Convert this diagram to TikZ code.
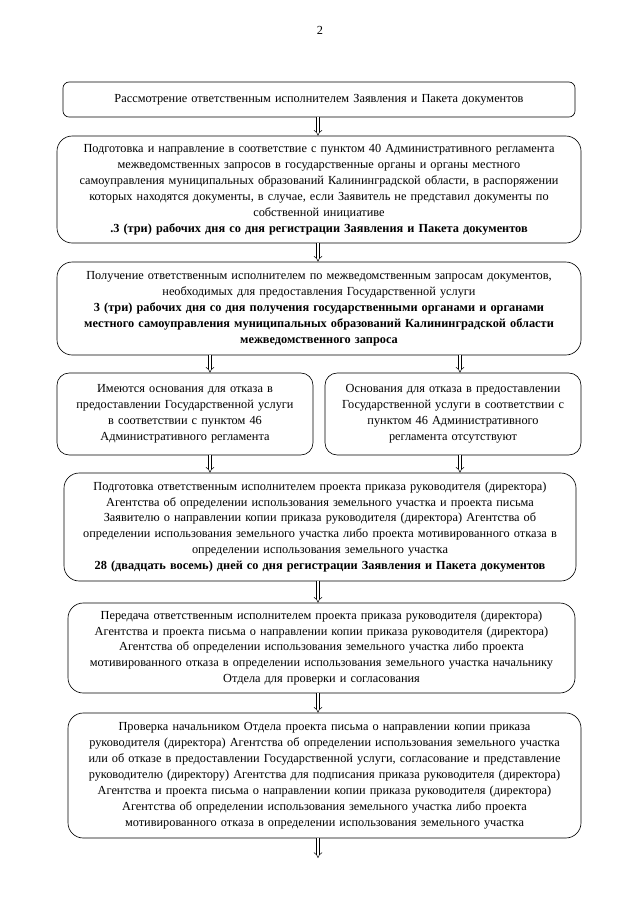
\documentclass[tikz,border=0pt]{standalone}
\usepackage{fontspec}
\setmainfont{Liberation Serif}
\usetikzlibrary{arrows.meta}
\newdimen\px
\px=0.3281mm
\begin{document}
\begin{tikzpicture}[x=\px,y=-\px,
  every node/.style={font=\fontsize{11.5}{14.9}\selectfont},
  stepbox/.style={draw,line width=0.6pt,rounded corners=5mm,align=center,inner sep=0pt,anchor=center},
  flowarrow/.style={draw,line width=0.45pt,double,double distance=2.4pt,-{Implies}},
]
\useasboundingbox (0,0) rectangle (640,905);
\node (pg) at (320,30) {2};
\coordinate (colc) at (318,0);
\coordinate (coll) at (210,0);
\coordinate (colr) at (460,0);

\node[stepbox,rounded corners=2mm,minimum width=512\px,minimum height=35\px,text width=505\px] (b1) at (319,99.5)
 {Рассмотрение ответственным исполнителем Заявления и Пакета документов};

\node[stepbox,minimum width=524\px,minimum height=107\px,text width=520\px] (b2) at (319,189.5)
 {Подготовка и направление в соответствие с пунктом 40 Административного регламента\\
 межведомственных запросов в государственные органы и органы местного\\
 самоуправления муниципальных образований Калининградской области, в распоряжении\\
 которых находятся документы, в случае, если Заявитель не представил документы по\\
 собственной инициативе\\
 \textbf{.3 (три) рабочих дня со дня регистрации Заявления и Пакета документов}};

\node[stepbox,minimum width=524\px,minimum height=93\px,text width=520\px] (b3) at (319,308.5)
 {Получение ответственным исполнителем по межведомственным запросам документов,\\
 необходимых для предоставления Государственной услуги\\
 \textbf{3 (три) рабочих дня со дня получения государственными органами и органами}\\
 \textbf{местного самоуправления муниципальных образований Калининградской области}\\
 \textbf{межведомственного запроса}};

\node[stepbox,rounded corners=4mm,minimum width=256\px,minimum height=82\px,text width=252\px] (b4l) at (185,414)
 {Имеются основания для отказа в\\
 предоставлении Государственной услуги\\
 в соответствии с пунктом 46\\
 Административного регламента};

\node[stepbox,rounded corners=4mm,minimum width=256\px,minimum height=82\px,text width=252\px] (b4r) at (453,414)
 {Основания для отказа в предоставлении\\
 Государственной услуги в соответствии с\\
 пунктом 46 Административного\\
 регламента отсутствуют};

\node[stepbox,minimum width=512\px,minimum height=108\px,text width=508\px] (b5) at (320,527)
 {Подготовка ответственным исполнителем проекта приказа руководителя (директора)\\
 Агентства об определении использования земельного участка и проекта письма\\
 Заявителю о направлении копии приказа руководителя (директора) Агентства об\\
 определении использования земельного участка либо проекта мотивированного отказа в\\
 определении использования земельного участка\\
 \textbf{28 (двадцать восемь) дней со дня регистрации Заявления и Пакета документов}};

\node[stepbox,minimum width=507\px,minimum height=90\px,text width=503\px] (b6) at (321.5,648)
 {Передача ответственным исполнителем проекта приказа руководителя (директора)\\
 Агентства и проекта письма о направлении копии приказа руководителя (директора)\\
 Агентства об определении использования земельного участка либо проекта\\
 мотивированного отказа в определении использования земельного участка начальнику\\
 Отдела для проверки и согласования};

\node[stepbox,minimum width=513\px,minimum height=125\px,text width=509\px] (b7) at (324.5,775.5)
 {Проверка начальником Отдела проекта письма о направлении копии приказа\\
 руководителя (директора) Агентства об определении использования земельного участка\\
 или об отказе в предоставлении Государственной услуги, согласование и представление\\
 руководителю (директору) Агентства для подписания приказа руководителя (директора)\\
 Агентства и проекта письма о направлении копии приказа руководителя (директора)\\
 Агентства об определении использования земельного участка либо проекта\\
 мотивированного отказа в определении использования земельного участка};

\coordinate (endpt) at (318,858);

\draw[flowarrow] (b1.south -| colc) -- (b2.north -| colc);
\draw[flowarrow] (b2.south -| colc) -- (b3.north -| colc);
\draw[flowarrow] (b3.south -| coll) -- (b4l.north -| coll);
\draw[flowarrow] (b3.south -| colr) -- (b4r.north -| colr);
\draw[flowarrow] (b4l.south -| coll) -- (b5.north -| coll);
\draw[flowarrow] (b4r.south -| colr) -- (b5.north -| colr);
\draw[flowarrow] (b5.south -| colc) -- (b6.north -| colc);
\draw[flowarrow] (b6.south -| colc) -- (b7.north -| colc);
\draw[flowarrow] (b7.south -| colc) -- (endpt);
\end{tikzpicture}
\end{document}
